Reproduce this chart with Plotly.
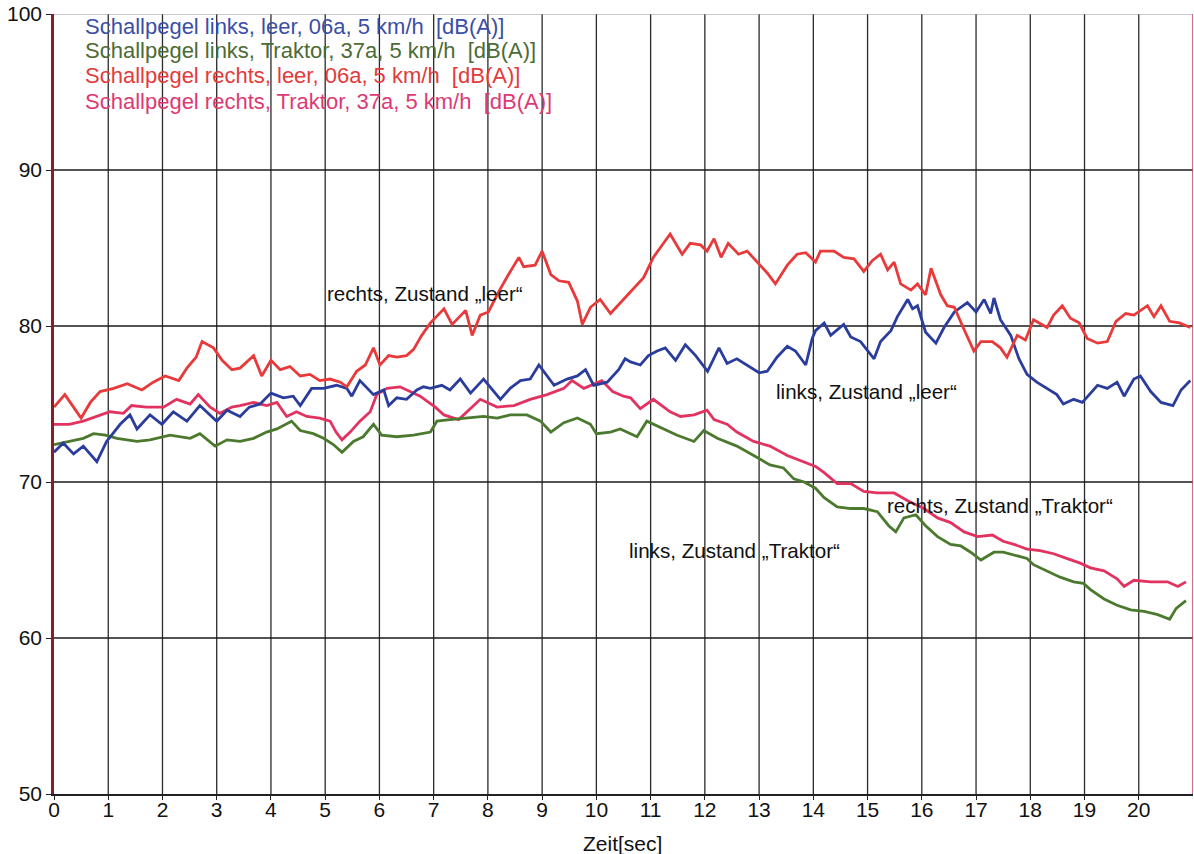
import plotly.graph_objects as go

# --- measured sound levels, dB(A), over time in seconds ---------------------
t_rechts_leer = [0.0, 0.2, 0.5, 0.67, 0.85, 1.1, 1.35, 1.62, 1.83, 2.05, 2.3, 2.45, 2.62, 2.73,
                 2.94, 3.1, 3.28, 3.43, 3.68, 3.83, 4.0, 4.17, 4.35, 4.54, 4.72, 4.9, 5.09,
                 5.28, 5.4, 5.58, 5.74, 5.89, 6.01, 6.17, 6.32, 6.5, 6.63, 6.78, 6.94, 7.19,
                 7.34, 7.59, 7.71, 7.86, 8.01, 8.2, 8.38, 8.57, 8.66, 8.87, 9.0, 9.16, 9.31,
                 9.49, 9.65, 9.74, 9.89, 10.07, 10.26, 10.44, 10.69, 10.87, 11.05, 11.36,
                 11.58, 11.73, 11.92, 12.04, 12.17, 12.3, 12.43, 12.62, 12.78, 12.96, 13.15,
                 13.3, 13.52, 13.7, 13.86, 14.04, 14.13, 14.38, 14.56, 14.75, 14.93, 15.09,
                 15.24, 15.37, 15.49, 15.61, 15.8, 15.92, 16.07, 16.17, 16.35, 16.47, 16.6,
                 16.75, 16.96, 17.09, 17.3, 17.45, 17.57, 17.76, 17.91, 18.06, 18.31, 18.43,
                 18.59, 18.74, 18.9, 19.05, 19.24, 19.42, 19.58, 19.76, 19.91, 20.16, 20.28,
                 20.41, 20.57, 20.75, 20.95]
v_rechts_leer = [74.8, 75.6, 74.1, 75.1, 75.8, 76.0, 76.3, 75.9, 76.4, 76.8, 76.5, 77.3, 78.0, 79.0,
                 78.6, 77.8, 77.2, 77.3, 78.1, 76.8, 77.8, 77.2, 77.4, 76.8, 76.9, 76.5, 76.6,
                 76.4, 76.1, 77.1, 77.5, 78.6, 77.5, 78.1, 78.0, 78.1, 78.5, 79.4, 80.2, 81.1,
                 80.1, 81.0, 79.4, 80.7, 80.9, 82.2, 83.3, 84.4, 83.8, 83.9, 84.8, 83.3, 82.9,
                 82.8, 81.6, 80.1, 81.2, 81.7, 80.8, 81.5, 82.4, 83.1, 84.4, 85.9,
                 84.6, 85.3, 85.2, 84.8, 85.6, 84.4, 85.3, 84.6, 84.8, 84.1, 83.4,
                 82.7, 83.9, 84.6, 84.7, 84.1, 84.8, 84.8, 84.4, 84.3, 83.5, 84.2,
                 84.6, 83.6, 84.1, 82.7, 82.3, 82.7, 82.0, 83.7, 82.0, 81.3, 81.2,
                 80.0, 78.4, 79.0, 79.0, 78.6, 78.0, 79.4, 79.1, 80.4, 79.9, 80.7,
                 81.3, 80.5, 80.2, 79.2, 78.9, 79.0, 80.3, 80.8, 80.7, 81.3, 80.6,
                 81.3, 80.3, 80.2, 79.9]

t_links_leer = [0.0, 0.17, 0.36, 0.54, 0.79, 0.97, 1.22, 1.4, 1.53, 1.77, 1.99, 2.2, 2.45, 2.69,
                3.0, 3.19, 3.43, 3.6, 3.8, 4.0, 4.23, 4.41, 4.54, 4.75, 4.97, 5.21, 5.4, 5.49,
                5.64, 5.89, 6.08, 6.17, 6.32, 6.5, 6.69, 6.81, 6.94, 7.15, 7.3, 7.49, 7.68,
                7.92, 8.23, 8.41, 8.6, 8.78, 8.94, 9.22, 9.46, 9.65, 9.8, 9.95, 10.2, 10.41,
                10.53, 10.63, 10.81, 10.96, 11.12, 11.27, 11.46, 11.64, 11.83, 12.05, 12.26,
                12.41, 12.59, 12.78, 13.0, 13.15, 13.33, 13.52, 13.67, 13.86, 13.98, 14.04,
                14.2, 14.32, 14.56, 14.69, 14.87, 15.12, 15.24, 15.43, 15.55, 15.74, 15.83,
                15.92, 16.07, 16.26, 16.41, 16.6, 16.84, 17.0, 17.15, 17.27, 17.33, 17.45,
                17.64, 17.79, 17.94, 18.12, 18.31, 18.49, 18.61, 18.8, 18.96, 19.11, 19.24,
                19.42, 19.6, 19.73, 19.91, 20.03, 20.22, 20.41, 20.63, 20.78, 20.95]
v_links_leer = [71.9, 72.5, 71.8, 72.3, 71.3, 72.6, 73.7, 74.3, 73.4, 74.3, 73.7, 74.5, 73.9, 74.9,
                73.9, 74.6, 74.2, 74.8, 75.0, 75.7, 75.4, 75.5, 74.9, 76.0, 76.0, 76.2, 76.0, 75.5,
                76.5, 75.6, 75.9, 74.9, 75.4, 75.3, 75.9, 76.1, 76.0, 76.2, 75.9, 76.6, 75.7,
                76.6, 75.3, 76.0, 76.5, 76.6, 77.5, 76.2, 76.6, 76.8, 77.2, 76.2, 76.4, 77.2,
                77.9, 77.7, 77.5, 78.1, 78.4, 78.6, 77.8, 78.8, 78.1, 77.1, 78.6,
                77.6, 77.9, 77.5, 77.0, 77.1, 78.0, 78.7, 78.4, 77.5, 79.2, 79.7,
                80.2, 79.4, 80.1, 79.3, 79.0, 77.9, 79.0, 79.7, 80.6, 81.7, 81.1,
                81.3, 79.6, 78.9, 79.9, 80.9, 81.5, 80.9, 81.7, 80.8, 81.8, 80.4,
                79.4, 77.9, 76.9, 76.4, 76.0, 75.6, 75.0, 75.3, 75.1, 75.7, 76.2,
                76.0, 76.4, 75.5, 76.6, 76.8, 75.8, 75.1, 74.9, 75.9, 76.5]

t_rechts_traktor = [0.0, 0.28, 0.54, 0.79, 1.03, 1.28, 1.43, 1.7, 2.02, 2.26, 2.51, 2.66, 2.88,
                    3.06, 3.28, 3.43, 3.68, 3.92, 4.11, 4.29, 4.47, 4.66, 4.9, 5.09, 5.2, 5.31,
                    5.46, 5.64, 5.83, 5.95, 6.14, 6.38, 6.57, 6.75, 7.03, 7.19, 7.46, 7.68, 7.86,
                    8.17, 8.48, 8.78, 9.09, 9.4, 9.55, 9.77, 9.98, 10.1, 10.3, 10.5, 10.63,
                    10.81, 11.05, 11.36, 11.55, 11.8, 12.04, 12.17, 12.41, 12.59, 12.9, 13.2,
                    13.52, 13.83, 14.04, 14.2, 14.44, 14.69, 14.93, 15.18, 15.49, 15.74, 16.04,
                    16.29, 16.53, 16.78, 17.03, 17.3, 17.5, 17.7, 17.94, 18.18, 18.43, 18.67,
                    18.92, 19.11, 19.36, 19.6, 19.73, 19.91, 20.22, 20.53, 20.72, 20.87]
v_rechts_traktor = [73.7, 73.7, 73.9, 74.2, 74.5, 74.4, 74.9, 74.8, 74.8, 75.3, 75.0, 75.6, 74.8,
                    74.4, 74.8, 74.9, 75.1, 74.9, 75.1, 74.2, 74.5, 74.2, 74.1, 73.9, 73.2, 72.7,
                    73.2, 73.9, 74.5, 75.6, 76.0, 76.1, 75.8, 75.5, 74.8, 74.3, 74.0, 74.7, 75.3,
                    74.8, 74.9, 75.3, 75.6, 76.0, 76.5, 76.0, 76.3, 76.5, 75.8, 75.5, 75.4,
                    74.7, 75.3, 74.5, 74.2, 74.3, 74.6, 74.0, 73.7, 73.2, 72.6, 72.3,
                    71.7, 71.3, 71.0, 70.6, 69.9, 69.9, 69.4, 69.3, 69.3, 68.8, 68.3,
                    67.7, 67.4, 66.8, 66.5, 66.6, 66.2, 66.0, 65.7, 65.6, 65.4, 65.1,
                    64.8, 64.5, 64.3, 63.8, 63.3, 63.7, 63.6, 63.6, 63.3, 63.6]

t_links_traktor = [0.0, 0.28, 0.54, 0.73, 0.95, 1.16, 1.53, 1.77, 2.14, 2.51, 2.69, 2.97, 3.19,
                   3.43, 3.68, 3.92, 4.11, 4.38, 4.54, 4.78, 4.97, 5.15, 5.31, 5.52, 5.7, 5.89,
                   6.04, 6.32, 6.63, 6.94, 7.06, 7.3, 7.68, 7.92, 8.17, 8.41, 8.72, 8.97, 9.16,
                   9.4, 9.65, 9.89, 10.0, 10.26, 10.44, 10.75, 10.93, 11.18, 11.49, 11.8, 11.98,
                   12.23, 12.59, 12.9, 13.2, 13.45, 13.64, 13.83, 14.04, 14.2, 14.44, 14.69,
                   14.93, 15.18, 15.39, 15.52, 15.67, 15.89, 16.07, 16.29, 16.53, 16.72, 16.9,
                   17.09, 17.33, 17.5, 17.7, 17.94, 18.06, 18.31, 18.55, 18.8, 18.98, 19.11,
                   19.36, 19.6, 19.85, 20.1, 20.35, 20.57, 20.69, 20.87]
v_links_traktor = [72.4, 72.6, 72.8, 73.1, 73.0, 72.8, 72.6, 72.7, 73.0, 72.8, 73.1, 72.3, 72.7,
                   72.6, 72.8, 73.2, 73.4, 73.9, 73.3, 73.1, 72.8, 72.4, 71.9, 72.6, 72.9, 73.7,
                   73.0, 72.9, 73.0, 73.2, 73.9, 74.0, 74.1, 74.2, 74.1, 74.3, 74.3, 73.9, 73.2,
                   73.8, 74.1, 73.7, 73.1, 73.2, 73.4, 72.9, 73.9, 73.5, 73.0, 72.6, 73.3,
                   72.8, 72.3, 71.7, 71.1, 70.9, 70.2, 70.0, 69.6, 69.0, 68.4, 68.3,
                   68.3, 68.1, 67.2, 66.8, 67.7, 67.9, 67.2, 66.5, 66.0, 65.9, 65.5,
                   65.0, 65.5, 65.5, 65.3, 65.1, 64.7, 64.3, 63.9, 63.6, 63.5, 63.1,
                   62.5, 62.1, 61.8, 61.7, 61.5, 61.2, 61.9, 62.4]

legend_lines = [
    ("Schallpegel links, leer, 06a, 5 km/h  [dB(A)]", "#3b4ea6"),
    ("Schallpegel links, Traktor, 37a, 5 km/h  [dB(A)]", "#4d6b34"),
    ("Schallpegel rechts, leer, 06a, 5 km/h  [dB(A)]", "#e23b3b"),
    ("Schallpegel rechts, Traktor, 37a, 5 km/h  [dB(A)]", "#dc3a74"),
]
legend_y = [99.17, 97.69, 96.09, 94.42]

curve_labels = [
    ("rechts, Zustand \u201eleer\u201c", 5.0, 82.1),
    ("links, Zustand \u201eleer\u201c", 13.27, 75.8),
    ("rechts, Zustand \u201eTraktor\u201c", 15.33, 68.5),
    ("links, Zustand \u201eTraktor\u201c", 10.57, 65.6),
]

x_ticks = list(range(0, 21))
y_ticks = [50, 60, 70, 80, 90, 100]

FONT = "Liberation Sans, Arial, sans-serif"

fig = go.Figure()
series = [
    (t_rechts_traktor, v_rechts_traktor, "#e2325f"),
    (t_links_traktor, v_links_traktor, "#4b7a2e"),
    (t_links_leer, v_links_leer, "#2a3d9d"),
    (t_rechts_leer, v_rechts_leer, "#e83a3a"),
]
for tx, vy, col in series:
    fig.add_trace(go.Scatter(x=tx, y=vy, mode="lines",
                             line=dict(color=col, width=2.8),
                             showlegend=False, hoverinfo="skip"))

# horizontal and vertical grid lines are drawn as shapes beneath the traces
for xv in x_ticks[1:]:
    fig.add_shape(type="line", x0=xv, x1=xv, y0=50, y1=100, xref="x", yref="y",
                  line=dict(color="#2a2a2a", width=1.3), layer="below")
for yv in [60, 70, 80, 90]:
    fig.add_shape(type="line", x0=0, x1=21, y0=yv, y1=yv, xref="x", yref="y",
                  line=dict(color="#1a1a1a", width=1.5), layer="below")
fig.add_shape(type="line", x0=0, x1=21, y0=100, y1=100, xref="x", yref="y",
              line=dict(color="#9a9a9a", width=1), layer="below")
fig.add_shape(type="line", x0=21, x1=21, y0=50, y1=100, xref="x", yref="y",
              line=dict(color="#c04050", width=1.5), layer="below")

for (txt, col), yv in zip(legend_lines, legend_y):
    fig.add_annotation(x=0.54, y=yv, text=txt, showarrow=False, xanchor="left",
                       yanchor="middle", font=dict(family=FONT, size=22, color=col))

for txt, xv, yv in curve_labels:
    fig.add_annotation(x=xv, y=yv, text=txt, showarrow=False, xanchor="left",
                       yanchor="middle", font=dict(family=FONT, size=20.6, color="#111111"))

fig.add_annotation(x=10.48, y=-0.063, xref="x", yref="paper", text="Zeit[sec]",
                   showarrow=False, xanchor="center", yanchor="middle",
                   font=dict(family=FONT, size=21, color="#111111"))

fig.update_xaxes(range=[0, 21], tickvals=x_ticks, ticktext=[str(v) for v in x_ticks],
                 showgrid=False, zeroline=False, showline=True, linecolor="#222222",
                 linewidth=1.5, ticks="outside", ticklen=4, tickcolor="#222222",
                 ticklabelstandoff=-8,
                 tickfont=dict(family=FONT, size=21, color="#111111"))
fig.update_yaxes(range=[50, 100], tickvals=y_ticks, ticktext=[str(v) for v in y_ticks],
                 showgrid=False, zeroline=False, showline=True, linecolor="#8a1c2c",
                 linewidth=2.5, ticks="outside", ticklen=5, tickcolor="#222222",
                 tickfont=dict(family=FONT, size=21, color="#111111"))

fig.update_layout(width=1194, height=854, margin=dict(l=54, r=1, t=14, b=60),
                  plot_bgcolor="white", paper_bgcolor="white")

fig.write_html("out.html")
